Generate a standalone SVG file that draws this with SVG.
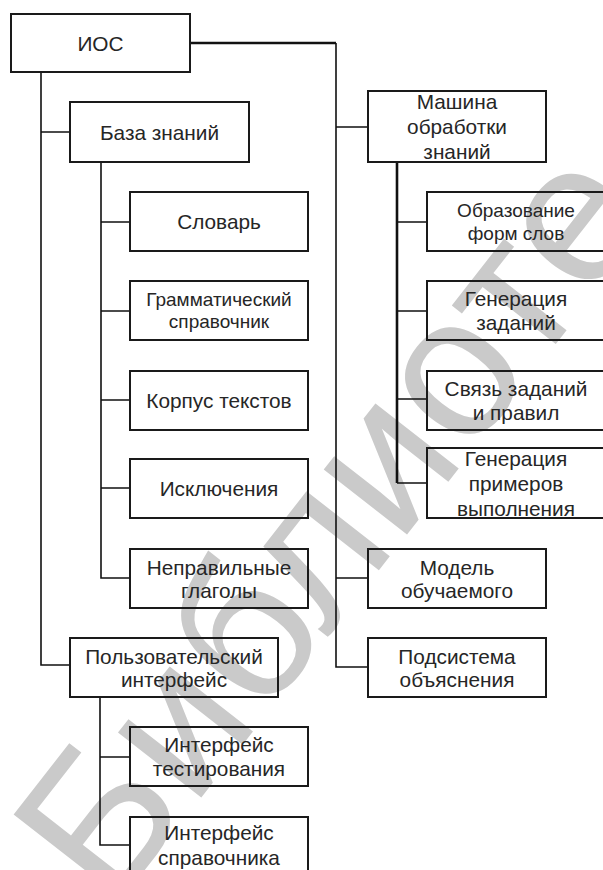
<svg xmlns="http://www.w3.org/2000/svg" width="603" height="870" viewBox="0 0 603 870">
<style>
.box{fill:none;stroke:#1a1a1a;stroke-width:2}
.t{font-family:"Liberation Sans",Arial,sans-serif;font-size:20.8px;fill:#262626;text-anchor:middle;dominant-baseline:central}
.s{font-size:19px}
.c{fill:none;stroke:#111;stroke-width:1.6}
.ct{fill:none;stroke:#111;stroke-width:2.6}
.wm{font-family:"Liberation Sans",Arial,sans-serif;font-size:200px;fill:#cacaca}
</style>
<rect width="603" height="870" fill="#fff"/>
<text class="wm" x="112" y="912" transform="rotate(-52 112 912)">Библиоте</text>
<g id="connectors">
<path class="ct" d="M190 43 H336"/>
<path class="c" d="M336 43 V667 H368 M336 127 H368 M336 578 H368"/>
<path class="c" d="M41 72 V665 H70 M41 132 H70"/>
<path class="c" d="M101 162 V578 H130 M101 222 H130 M101 311 H130 M101 400 H130 M101 488 H130"/>
<path class="ct" d="M397 162 V483"/>
<path class="c" d="M397 483 H427 M397 222 H427 M397 311 H427 M397 399 H427"/>
<path class="c" d="M100 697 V845 H130 M100 757 H130"/>
</g>
<g id="ios"><rect class="box" x="11" y="14" width="179" height="58"/><text class="t" x="100.5" y="43">ИОС</text></g>
<g id="kb"><rect class="box" x="70" y="102" width="179" height="60"/><text class="t" x="159.5" y="132">База знаний</text></g>
<g id="slovar"><rect class="box" x="130" y="192" width="178" height="59"/><text class="t" x="219" y="221.5">Словарь</text></g>
<g id="gram"><rect class="box" x="130" y="281" width="178" height="59"/><text class="t s" x="219" y="299.5">Грамматический</text><text class="t s" x="219" y="321.5">справочник</text></g>
<g id="korpus"><rect class="box" x="130" y="371" width="178" height="59"/><text class="t" x="219" y="400.5">Корпус текстов</text></g>
<g id="iskl"><rect class="box" x="130" y="459" width="178" height="59"/><text class="t" x="219" y="488.5">Исключения</text></g>
<g id="neprav"><rect class="box" x="130" y="549" width="178" height="59"/><text class="t" x="219" y="567">Неправильные</text><text class="t" x="219" y="590">глаголы</text></g>
<g id="polz"><rect class="box" x="70" y="638" width="208" height="59"/><text class="t" x="174" y="656">Пользовательский</text><text class="t" x="174" y="679">интерфейс</text></g>
<g id="test"><rect class="box" x="130" y="727" width="178" height="59"/><text class="t" x="219" y="744">Интерфейс</text><text class="t" x="219" y="768">тестирования</text></g>
<g id="sprav"><rect class="box" x="130" y="817" width="178" height="60"/><text class="t" x="219" y="832">Интерфейс</text><text class="t" x="219" y="857">справочника</text></g>
<g id="mach"><rect class="box" x="368" y="91" width="178" height="71"/><text class="t" x="457" y="101">Машина</text><text class="t" x="457" y="126">обработки</text><text class="t" x="457" y="151">знаний</text></g>
<g id="obraz"><rect class="box" x="427" y="192" width="180" height="59"/><text class="t s" x="516" y="210">Образование</text><text class="t s" x="516" y="233">форм слов</text></g>
<g id="gen1"><rect class="box" x="427" y="281" width="180" height="59"/><text class="t" x="516" y="298">Генерация</text><text class="t" x="516" y="322">заданий</text></g>
<g id="svyaz"><rect class="box" x="427" y="371" width="180" height="59"/><text class="t" x="516" y="388">Связь заданий</text><text class="t" x="516" y="412">и правил</text></g>
<g id="gen2"><rect class="box" x="427" y="448" width="180" height="70"/><text class="t" x="516" y="458">Генерация</text><text class="t" x="516" y="483">примеров</text><text class="t" x="516" y="508">выполнения</text></g>
<g id="model"><rect class="box" x="368" y="549" width="178" height="59"/><text class="t" x="457" y="567">Модель</text><text class="t" x="457" y="590">обучаемого</text></g>
<g id="podsys"><rect class="box" x="368" y="638" width="178" height="59"/><text class="t" x="457" y="656">Подсистема</text><text class="t" x="457" y="679">объяснения</text></g>
</svg>
